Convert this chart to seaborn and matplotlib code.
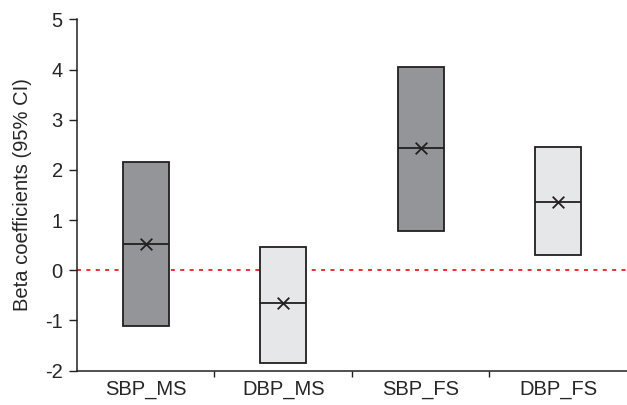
import numpy as np
import pandas as pd
import seaborn as sns
import matplotlib.pyplot as plt

# values
groups = ["SBP_MS", "DBP_MS", "SBP_FS", "DBP_FS"]
ci_low = [-1.1, -1.84, 0.79, 0.31]
ci_high = [2.15, 0.47, 4.06, 2.45]
beta = [0.52, -0.66, 2.43, 1.37]
box_colors = ["#939598", "#e6e7e8", "#939598", "#e6e7e8"]

df = pd.DataFrame({"group": groups, "low": ci_low, "high": ci_high, "beta": beta})
df["pos"] = np.arange(len(df))

sns.set_style("white")
plt.rcParams["font.family"] = ["Liberation Sans", "DejaVu Sans"]
plt.rcParams["axes.unicode_minus"] = False

fig = plt.figure(figsize=(6.27, 4.05), dpi=100)
ax = fig.add_axes([0.1228, 0.0847, 0.8772, 0.8676])

edge = "#231f20"
w = 0.336
ax.bar(df["pos"], df["high"] - df["low"], bottom=df["low"], width=w,
       color=box_colors, edgecolor=edge, linewidth=1.3, zorder=2)
ax.hlines(df["beta"], df["pos"] - w / 2, df["pos"] + w / 2, color=edge,
          linewidth=1.3, zorder=3)
sns.scatterplot(data=df, x="pos", y="beta", marker="x", s=70, color=edge,
                linewidth=1.3, zorder=4, ax=ax, legend=False)

ax.axhline(0, color="#ed1c24", linestyle=(0, (2.2, 3)), linewidth=1.3, zorder=1)

ax.set_xlim(-0.5, 3.5)
ax.set_ylim(-2, 5)
ax.set_yticks(range(-2, 6))
ax.set_xticks([0.5, 1.5, 2.5])
ax.set_xticklabels([])
ax.set_xticks(df["pos"], minor=True)
ax.set_xticklabels(groups, minor=True, fontsize=14.5)
ax.tick_params(axis="x", which="minor", length=0, pad=7)
ax.tick_params(axis="x", which="major", direction="out", length=4.5, width=1,
               color=edge, bottom=True)
ax.tick_params(axis="y", direction="out", length=5.8, width=1, color=edge,
               left=True, labelsize=14.5, pad=4.5)
ax.set_xlabel("")
ax.set_ylabel("Beta coefficients (95% CI)", fontsize=14.5, labelpad=9)

sns.despine(ax=ax)
for s in ["left", "bottom"]:
    ax.spines[s].set_color(edge)
    ax.spines[s].set_linewidth(1.1)

fig.savefig("out.png", dpi=100)
